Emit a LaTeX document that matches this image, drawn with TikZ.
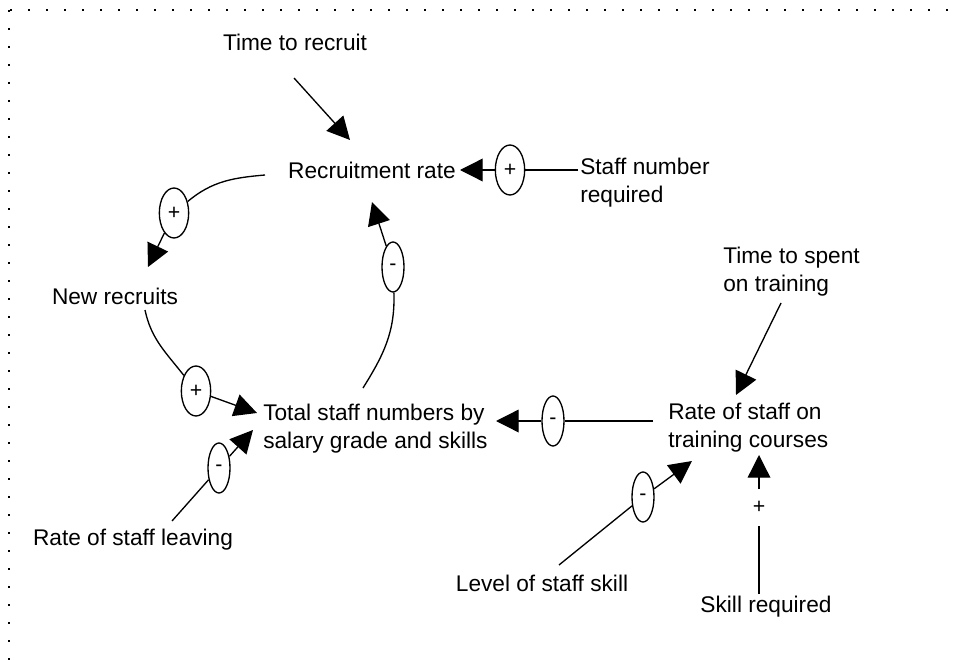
\documentclass[tikz,border=0pt]{standalone}
\usepackage{fontspec}
\setmainfont{Liberation Sans}
\usetikzlibrary{arrows.meta,shapes.geometric}
\begin{document}
\begin{tikzpicture}[x=0.75pt,y=-0.75pt,
  lbl/.style={font=\fontsize{17}{21}\selectfont, inner sep=0pt},
  lbll/.style={lbl, align=left, anchor=west},
  pol/.style={draw, ellipse, line width=1pt, minimum width=16.5pt, minimum height=37.5pt, inner sep=0pt, font=\fontsize{16}{18}\selectfont},
  polp/.style={pol, minimum width=22pt},
  link/.style={line width=1pt},
  arr/.style={line width=1pt, -{Triangle[length=17pt,width=17pt]}},
  frame/.style={line width=1.3pt, dash pattern=on 1.3pt off 12.2pt}]
\useasboundingbox (0,0) rectangle (961,660);
\draw[frame] (10,10) -- (961,10);
\draw[frame] (9,10) -- (9,660);

% labels
\node[lbl] (ttr) at (295,42) {Time to recruit};
\node[lbl] (rr) at (372,170) {Recruitment rate};
\node[lbll] (snr) at (580,183) {Staff number\\required};
\node[lbl] (nr) at (115,296) {New recruits};
\node[lbll] (ts) at (263,429) {Total staff numbers by\\salary grade and skills};
\node[lbll] (rst) at (668,428) {Rate of staff on\\training courses};
\node[lbll] (tst) at (723,272) {Time to spent\\on training};
\node[lbl] (rsl) at (133,540) {Rate of staff leaving};
\node[lbl] (lss) at (542,583) {Level of staff skill};
\node[lbl] (sr) at (766,607) {Skill required};

% polarity markers
\node[polp] (p2) at (510,170) {+};
\node[polp] (p3) at (174,213) {+};
\node[polp] (p4) at (196,391) {+};
\node[pol] (p5) at (393,267) {-};
\node[pol] (p6) at (219,468) {-};
\node[pol] (p7) at (553,421) {-};
\node[pol] (p9) at (643,497) {-};
\node[lbl, font=\fontsize{16}{18}\selectfont] (p10) at (759,507) {+};

% connector end points
\coordinate (a1) at (294,78);   \coordinate (b1) at (350,140);
\coordinate (a2) at (578,170);  \coordinate (b2) at (460,170);
\coordinate (a3) at (265,175);  \coordinate (b3) at (148,267);
\coordinate (a4) at (145,310);  \coordinate (b4) at (257,413);
\coordinate (a5) at (363,388);  \coordinate (b5) at (372,202);
\coordinate (a6) at (172,521);  \coordinate (b6) at (253,430);
\coordinate (a7) at (653,421);  \coordinate (b7) at (496,421);
\coordinate (a8) at (781,303);  \coordinate (b8) at (736,395);
\coordinate (a9) at (559,565);  \coordinate (b9) at (692,461);
\coordinate (a10) at (759,594); \coordinate (m10) at (759,526);
\coordinate (n10) at (759,489); \coordinate (b10) at (759,455);

% connectors
\draw[arr] (a1) -- (b1);
\draw[link] (a2) -- (p2); \draw[arr] (p2) -- (b2);
\draw[link] (a3) to[out=185,in=40] (p3); \draw[arr] (p3) -- (b3);
\draw[link] (a4) to[out=-78,in=128] (p4); \draw[arr] (p4) -- (b4);
\draw[link] (a5) to[out=58,in=-88] (p5); \draw[arr] (p5) -- (b5);
\draw[link] (a6) -- (p6); \draw[arr] (p6) -- (b6);
\draw[link] (a7) -- (p7); \draw[arr] (p7) -- (b7);
\draw[arr] (a8) -- (b8);
\draw[link] (a9) -- (p9); \draw[arr] (p9) -- (b9);
\draw[link] (a10) -- (m10); \draw[arr] (n10) -- (b10);
\end{tikzpicture}
\end{document}
